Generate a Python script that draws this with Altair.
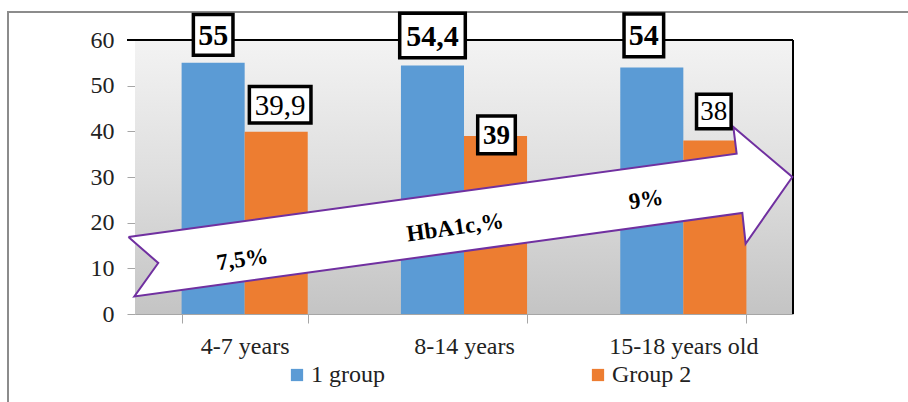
import altair as alt
import pandas as pd

# ---------------- data ----------------
categories = ["4-7 years", "8-14 years", "15-18 years old"]
series_names = ["1 group", "Group 2"]
group1_values = [55, 54.4, 54]
group2_values = [39.9, 39, 38]
group1_labels = ["55", "54,4", "54"]
group2_labels = ["39,9", "39", "38"]
y_ticks = [0, 10, 20, 30, 40, 50, 60]

# arrow outline, in (category-position, value) units
arrow_x = [-0.030, 2.743, 2.728, 2.997, 2.784, 2.769, -0.003, 0.106, -0.030]
arrow_y = [16.86, 35.10, 40.95, 30.00, 15.39, 22.12, 3.85, 11.17, 16.86]
arrow_texts = ["7,5%", "HbA1c,%", "9%"]
arrow_text_x = [0.49, 1.46, 2.33]
arrow_text_y = [11.9, 18.9, 25.0]

# ---------------- styling ----------------
W, H = 658, 274
BLUE, ORANGE = "#5B9BD5", "#ED7D31"
PURPLE = "#7030A0"
FONT = "Liberation Serif"
AX_GRAY = "#a6a6a6"
TXT = "#222222"
BAR_HALF = 31.5
AX_FS = 24

# per label box style: (half width, half height) in 10px units, dx, dy, font size, weight
box_style = {
    ("1 group", 0): (1.98, 2.03, 0, -28, 30, "bold"),
    ("1 group", 1): (3.28, 2.23, 0, -30, 30, "bold"),
    ("1 group", 2): (1.98, 2.13, -8, -32, 30, "bold"),
    ("Group 2", 0): (3.08, 1.83, 4, -27, 29, "normal"),
    ("Group 2", 1): (1.88, 1.88, 1, -1, 27, "bold"),
    ("Group 2", 2): (1.73, 1.73, -1, -29, 27, "normal"),
}

rows = []
for i, c in enumerate(categories):
    rows.append({"category": c, "series": series_names[0], "value": group1_values[i], "label": group1_labels[i], "idx": i})
    rows.append({"category": c, "series": series_names[1], "value": group2_values[i], "label": group2_labels[i], "idx": i})
df = pd.DataFrame(rows)

arrow_df = pd.DataFrame({"ax": arrow_x, "ay": arrow_y, "order": list(range(len(arrow_x)))})
atext_df = pd.DataFrame({"tx": arrow_text_x, "ty": arrow_text_y, "text": arrow_texts})

xscale = alt.Scale(domain=categories, paddingInner=0.425, paddingOuter=0.2125)
yscale = alt.Scale(domain=[0, 60], nice=False, zero=True)

xaxis = alt.Axis(title=None, tickBand="extent", labelAngle=0, domainColor=AX_GRAY,
                 tickColor=AX_GRAY, tickSize=9, labelFont=FONT, labelFontSize=AX_FS,
                 labelColor=TXT, labelPadding=11, grid=False)
yaxis = alt.Axis(title=None, values=y_ticks, grid=False, domainColor=AX_GRAY,
                 tickColor=AX_GRAY, tickSize=8, labelFont=FONT, labelFontSize=AX_FS,
                 labelColor=TXT, labelPadding=13)

X = alt.X("category:N", sort=categories, scale=xscale, axis=xaxis)
Y = alt.Y("value:Q", scale=yscale, axis=yaxis)

base = alt.Chart(df)

frame = base.mark_rect(filled=False, stroke="#8c8c8c", strokeWidth=2).encode(
    x=alt.value(-127), x2=alt.value(W + 200), y=alt.value(-28), y2=alt.value(H + 200))

bg = base.mark_rect(color=alt.Gradient(
    gradient="linear", x1=0, y1=0, x2=0, y2=1,
    stops=[alt.GradientStop(offset=0, color="#f3f3f3"),
           alt.GradientStop(offset=0.5, color="#dedede"),
           alt.GradientStop(offset=1, color="#c4c4c4")])).encode(
    x=alt.value(0), x2=alt.value(W), y=alt.value(0), y2=alt.value(H))

bars = base.mark_bar().encode(
    x=X,
    xOffset=alt.XOffset("series:N", sort=series_names),
    y=Y,
    color=alt.Color("series:N", sort=series_names,
                    scale=alt.Scale(domain=series_names, range=[BLUE, ORANGE]),
                    legend=alt.Legend(title=None, orient="none", legendX=150, legendY=323,
                                      direction="horizontal", symbolType="square",
                                      symbolSize=150, symbolStrokeWidth=0,
                                      labelFont=FONT, labelFontSize=AX_FS, labelColor=TXT,
                                      labelOffset=2, columnPadding=201, padding=0)),
)

top_line = base.mark_rule(color="black", strokeWidth=1.5).encode(
    x=alt.value(-8), x2=alt.value(W), y=alt.value(0))
right_line = base.mark_rule(color="black", strokeWidth=2).encode(
    x=alt.value(W), y=alt.value(0), y2=alt.value(H))

inner = alt.layer(bg, bars, top_line, right_line)

arrow = alt.Chart(arrow_df).mark_line(fill="white", stroke=PURPLE, strokeWidth=2,
                                      interpolate="linear", strokeJoin="miter").encode(
    x=alt.X("ax:Q", scale=alt.Scale(domain=[0, 3], nice=False, zero=False), axis=None),
    y=alt.Y("ay:Q", scale=yscale, axis=yaxis),
    order="order:Q",
)
arrow_text = alt.Chart(atext_df).mark_text(font=FONT, fontWeight="bold", fontSize=23,
                                           angle=352, color="black").encode(
    x=alt.X("tx:Q", scale=alt.Scale(domain=[0, 3], nice=False, zero=False), axis=None),
    y=alt.Y("ty:Q", scale=yscale, axis=yaxis),
    text="text:N",
)

label_layers = []
for (s, i), (hw, hh, dx, dy, fs, fw) in box_style.items():
    off = -BAR_HALF if s == series_names[0] else BAR_HALF
    path = f"M{-hw},{-hh}H{hw}V{hh}H{-hw}Z"
    sub = base.transform_filter((alt.datum.series == s) & (alt.datum.idx == i))
    XL = alt.X("category:N", sort=categories, scale=xscale, axis=None)
    label_layers.append(sub.mark_point(shape=path, size=400, filled=True, fill="white",
                                       stroke="black", strokeWidth=3.5, opacity=1,
                                       xOffset=off + dx, yOffset=dy).encode(x=XL, y=Y))
    label_layers.append(sub.mark_text(font=FONT, fontWeight=fw, fontSize=fs,
                                      color="black", baseline="middle", align="center",
                                      xOffset=off + dx, yOffset=dy + 1).encode(
        x=XL, y=Y, text="label:N"))
labels = alt.layer(*label_layers)

chart = alt.layer(frame, inner, arrow, arrow_text, labels).resolve_scale(
    x="independent").properties(
    width=W, height=H,
    autosize=alt.AutoSizeParams(type="none"),
    padding={"left": 135, "top": 40, "right": 908 - 135 - W, "bottom": 402 - 40 - H},
    background="white",
).configure_view(strokeWidth=0)

chart.save("out.html", embed_options={"renderer": "svg", "actions": False})
